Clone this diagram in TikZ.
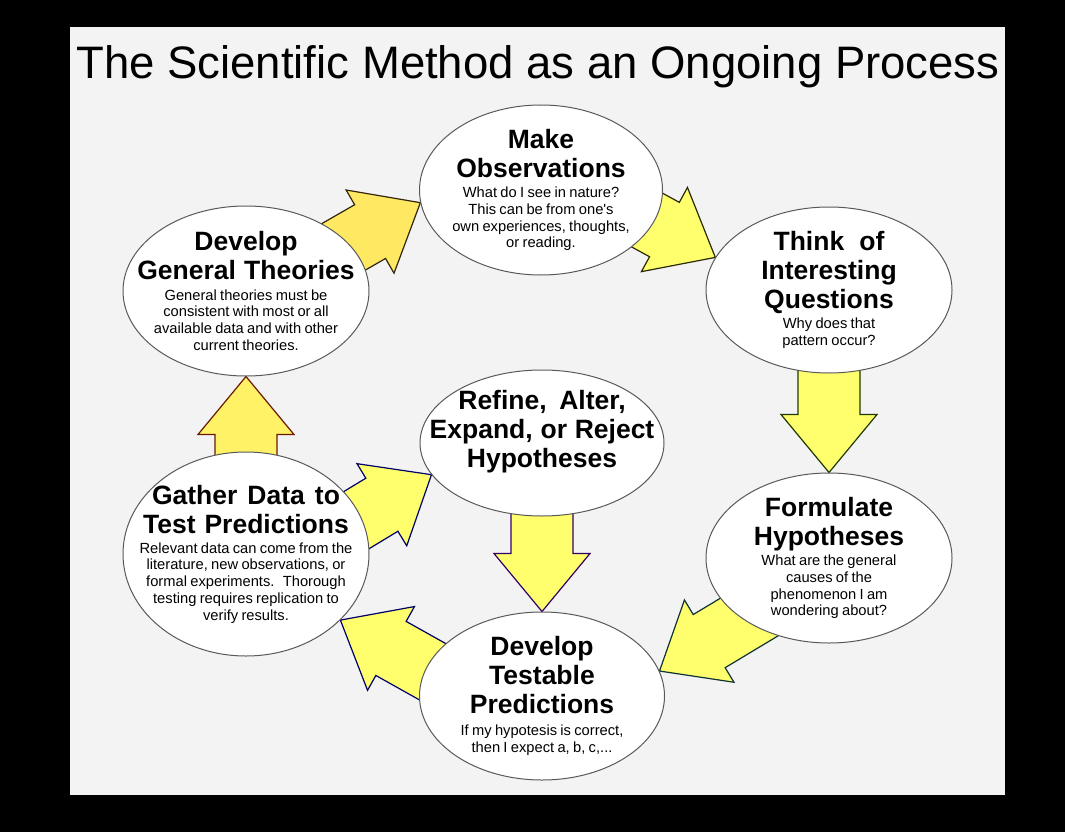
\documentclass[tikz,border=0pt]{standalone}
\usepackage{fontspec}
\setmainfont{Liberation Sans}
\usetikzlibrary{positioning, shapes.geometric, calc}

\definecolor{panel}{HTML}{F3F3F3}
\definecolor{flowfill}{HTML}{FFFF6E}
\definecolor{flowgold}{HTML}{FFE963}
\definecolor{edgebrown}{HTML}{33260A}
\definecolor{edgeolive}{HTML}{2B2B00}
\definecolor{edgegreen}{HTML}{1F3A00}
\definecolor{edgeteal}{HTML}{0D3333}
\definecolor{edgenavy}{HTML}{000066}
\definecolor{edgered}{HTML}{6A1A00}
\definecolor{edgeviolet}{HTML}{330066}

\pgfdeclarelayer{back}
\pgfdeclarelayer{flows}
\pgfsetlayers{back,flows,main}

\newcommand{\ttl}{\fontsize{26.5}{29}\bfseries\selectfont\spaceskip=0.25em plus 0.1em\relax}
\newcommand{\bdy}{\fontsize{14.7}{16.7}\selectfont}

% fat yellow arrow: tail #2 (hidden under an ellipse), tip #3
\newcommand{\flow}[3][]{%
  \coordinate (fh) at ($(#3)!58pt!(#2)$);
  \draw[flow, #1] ($(#2)!31pt!90:(#3)$) -- ($(fh)!31pt!90:(#3)$) -- ($(fh)!48pt!90:(#3)$)
    -- (#3) -- ($(fh)!48pt!-90:(#3)$) -- ($(fh)!31pt!-90:(#3)$) -- ($(#2)!31pt!-90:(#3)$) -- cycle;
}

\begin{document}
\begin{tikzpicture}[x=1pt, y=-1pt,
    stage/.style={ellipse, draw=black!65, line width=1pt, fill=white, inner sep=0pt},
    stagetext/.style={align=center, text width=240pt, inner sep=0pt},
    flow/.style={fill=flowfill, line width=1.2pt, line join=miter}
]

    % Frame
    \useasboundingbox (0,0) rectangle (1065,832);
    \begin{pgfonlayer}{back}
        \fill[black] (0,0) rectangle (1065,832);
        \fill[panel] (70,27) rectangle (1005,795);
    \end{pgfonlayer}

    % Title
    \node[anchor=base, font=\fontsize{45.5}{50}\selectfont, inner sep=0pt] (title) at (538,79)
        {The Scientific Method as an Ongoing Process};

    % Stages
    \node[stage, minimum width=243pt, minimum height=170pt] (obs) at (541,190) {};
    \node[stage, minimum width=246pt, minimum height=170pt] (theories) at (246,291) {};
    \node[stage, minimum width=246pt, minimum height=166pt] (quest) at (829,290) {};
    \node[stage, minimum width=244pt, minimum height=146pt] (refine) at (542,443) {};
    \node[stage, minimum width=246pt, minimum height=204pt] (gather) at (246,554) {};
    \node[stage, minimum width=246pt, minimum height=170pt] (form) at (829,558) {};
    \node[stage, minimum width=245pt, minimum height=168pt] (pred) at (542,696) {};

    % Stage texts
    \node[stagetext] (obs-t) at (obs) {{\ttl Make\\Observations\par}\vspace{3.5pt}
        {\bdy What do I see in nature?\\This can be from one\textquotesingle s\\own experiences, thoughts,\\or reading.\par}};
    \node[stagetext] (theories-t) at (theories) {{\ttl Develop\\General Theories\par}\vspace{3.5pt}
        {\bdy General theories must be\\consistent with most or all\\available data and with other\\current theories.\par}};
    \node[stagetext] (quest-t) at (quest) {{\ttl Think of\\Interesting\\Questions\par}\vspace{3.5pt}
        {\bdy Why does that\\pattern occur?\par}};
    \node[stagetext] (refine-t) at ($(refine)+(0,-11)$) {{\ttl Refine, Alter,\\Expand, or Reject\\Hypotheses\par}};
    \node[stagetext] (gather-t) at (gather) {{\ttl Gather Data to\\Test Predictions\par}\vspace{3.5pt}
        {\bdy Relevant data can come from the\\literature, new observations, or\\formal experiments.~ Thorough\\testing requires replication to\\verify results.\par}};
    \node[stagetext] (form-t) at (form) {{\ttl Formulate\\Hypotheses\par}\vspace{3.5pt}
        {\bdy What are the general\\causes of the\\phenomenon I am\\wondering about?\par}};
    \node[stagetext] (pred-t) at (pred) {{\ttl Develop\\Testable\\Predictions\par}\vspace{5pt}
        {\bdy If my hypotesis is correct,\\then I expect a, b, c,...\par}};

    % Arrow tails
    \coordinate (tA) at ($(theories)+(0,12)$);
    \coordinate (tB) at ($(obs)+(0,-28)$);
    \coordinate (tD) at ($(form)+(0,11)$);
    \coordinate (tE) at ($(pred)+(0,37)$);
    \coordinate (tG) at ($(gather)+(0,33)$);

    % Arrows
    \begin{pgfonlayer}{flows}
        \flow[fill=flowgold, draw=edgebrown]{tA}{obs.186}
        \flow[draw=edgeolive]{tB}{quest.164}
        \flow[draw=edgegreen]{quest.center}{form.north}
        \flow[draw=edgeteal]{tD}{pred.12}
        \flow[draw=edgenavy]{tE}{gather.325}
        \flow[fill=flowgold!60!flowfill, draw=edgered]{gather.center}{theories.south}
        \flow[draw=edgenavy]{tG}{refine.196}
        \flow[draw=edgeviolet]{refine.center}{pred.north}
    \end{pgfonlayer}

\end{tikzpicture}
\end{document}
